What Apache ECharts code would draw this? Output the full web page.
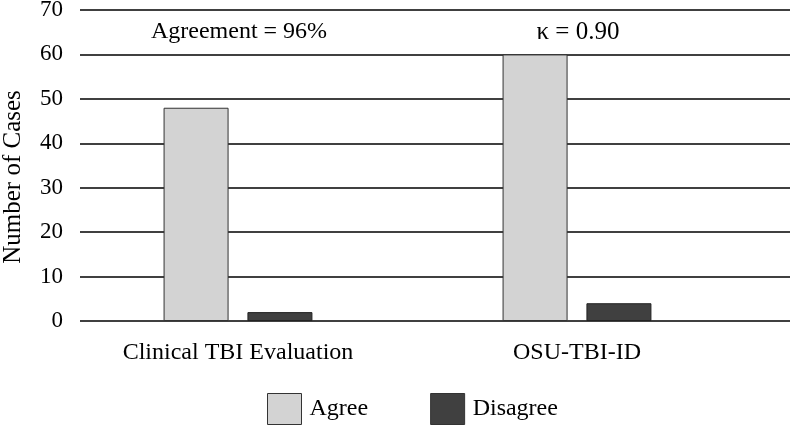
<!DOCTYPE html>
<html><head><meta charset="utf-8">
<script src="https://cdn.jsdelivr.net/npm/echarts@6/dist/echarts.min.js"></script>
<style>html,body{margin:0;padding:0;background:#fff}#c{width:792px;height:429px}</style>
</head><body><div id="c"></div>
<script>
const categories = ["Clinical TBI Evaluation", "OSU-TBI-ID"];
const agree = [48, 60];
const disagree = [2, 4];
const yTicks = [0, 10, 20, 30, 40, 50, 60, 70];
const annotations = ["Agreement = 96%", "\u03BA = 0.90"];
const yAxisTitle = "Number of Cases";

const font = "Liberation Serif, Times New Roman, serif";
const chart = echarts.init(document.getElementById('c'), null, {renderer: 'canvas'});
chart.setOption({
  backgroundColor: '#fff',
  animation: false,
  textStyle: {fontFamily: font},
  grid: [
    {left: 68.5, width: 678, top: 10, height: 311, outerBoundsMode: 'none', containLabel: false},
    {left: 80, width: 710, top: 10, height: 311, outerBoundsMode: 'none', containLabel: false}
  ],
  xAxis: [
    {type: 'category', gridIndex: 0, data: categories,
     axisLine: {show: false}, axisTick: {show: false},
     axisLabel: {fontFamily: font, fontSize: 24, color: '#000', margin: 20}},
    {type: 'value', gridIndex: 1, min: 0, max: 1, show: false}
  ],
  yAxis: [
    {type: 'value', gridIndex: 0, min: yTicks[0], max: yTicks[yTicks.length-1], interval: 10,
     axisLabel: {show: false}, splitLine: {show: false}, axisLine: {show: false}, axisTick: {show: false}},
    {type: 'value', gridIndex: 1, min: yTicks[0], max: yTicks[yTicks.length-1], interval: 10,
     axisLabel: {fontFamily: font, fontSize: 23, color: '#000', margin: 17},
     axisLine: {show: false}, axisTick: {show: false},
     splitLine: {show: true, lineStyle: {color: '#000', width: 1.5}}}
  ],
  legend: {
    data: ['Agree', 'Disagree'], bottom: 4, left: 267, padding: 0,
    icon: 'rect', itemWidth: 34, itemHeight: 31, itemGap: 62,
    itemStyle: {borderColor: '#333', borderWidth: 1},
    textStyle: {fontFamily: font, fontSize: 24, color: '#000', padding: [0, 0, 0, 3]}
  },
  graphic: [
    {type: 'text', x: 239, y: 32, style: {text: annotations[0], font: '24px ' + font, fill: '#000', align: 'center', verticalAlign: 'middle'}},
    {type: 'text', x: 578, y: 32, style: {text: annotations[1], font: '25px ' + font, fill: '#000', align: 'center', verticalAlign: 'middle'}},
    {type: 'text', x: 13, y: 177, rotation: Math.PI / 2, style: {text: yAxisTitle, font: '25px ' + font, fill: '#000', align: 'center', verticalAlign: 'middle'}}
  ],
  series: [
    {type: 'scatter', xAxisIndex: 1, yAxisIndex: 1, data: [], silent: true},
    {name: 'Agree', type: 'bar', xAxisIndex: 0, yAxisIndex: 0, data: agree, barWidth: 65, barGap: '29%',
     itemStyle: {color: '#d3d3d3', borderColor: '#333', borderWidth: 1}, z: 3},
    {name: 'Disagree', type: 'bar', xAxisIndex: 0, yAxisIndex: 0, data: disagree, barWidth: 65, barGap: '29%',
     itemStyle: {color: '#404040', borderColor: '#222', borderWidth: 1}, z: 3}
  ]
});
</script></body></html>
